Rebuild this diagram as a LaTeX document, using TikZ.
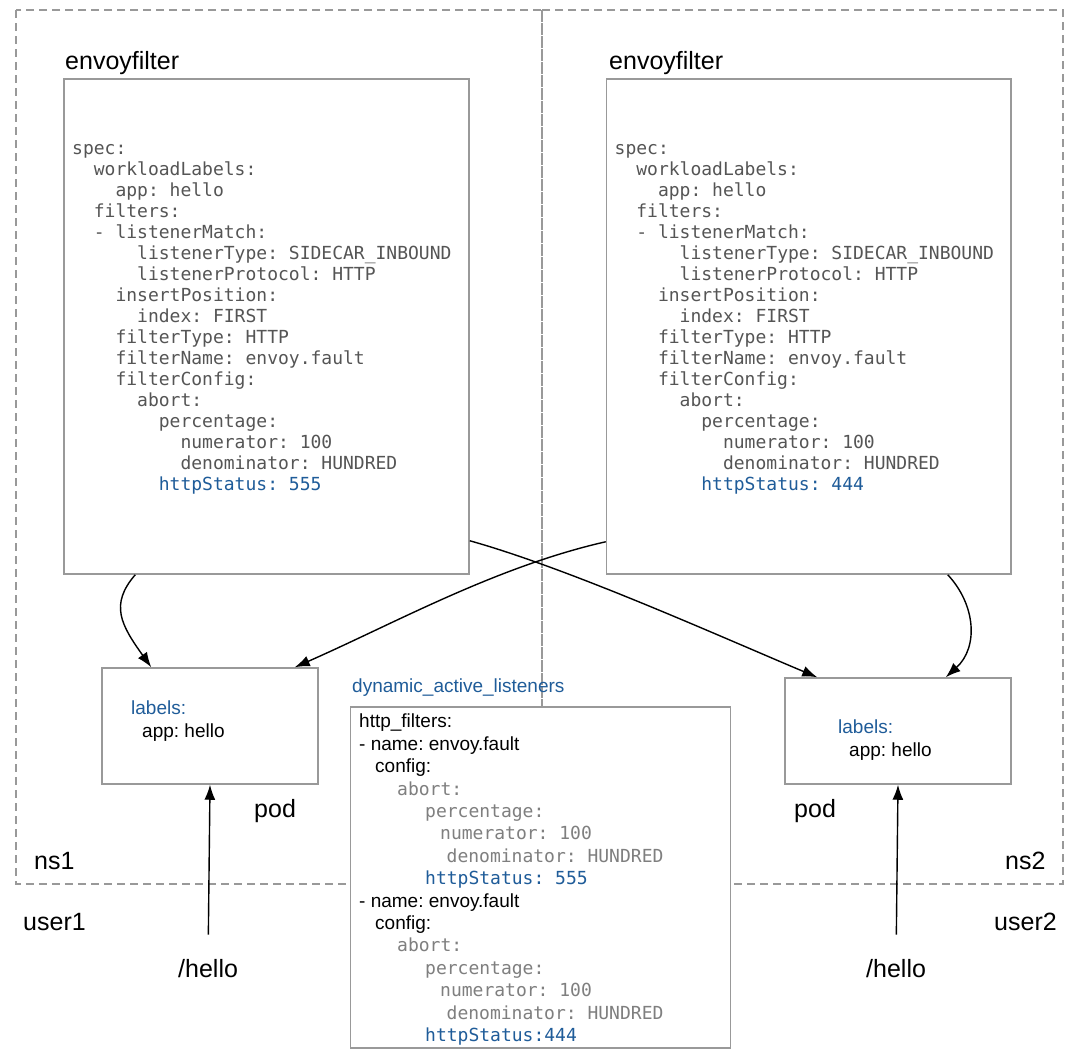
\documentclass[tikz,border=0pt]{standalone}
\usepackage{fontspec}
\setmainfont{Liberation Sans}
\newfontfamily\codefont{DejaVu Sans Mono}
\usetikzlibrary{arrows.meta}

\definecolor{codegray}{HTML}{555555}
\definecolor{lightcode}{HTML}{7F7F7F}
\definecolor{keyblue}{HTML}{1F5C99}
\definecolor{boxgray}{HTML}{999999}

\frenchspacing
\newcommand{\codeind}[1]{\hspace*{#1\fontcharwd\font`0}}
\newcommand{\mono}{\codefont\fontsize{18}{22.4}\selectfont}

\tikzset{
  boxnode/.style={draw=boxgray, line width=1.5pt, fill=white, inner sep=0pt},
  codetext/.style={inner sep=0pt, anchor=north west, align=left, text=codegray,
    font=\codefont\fontsize{18}{21}\selectfont},
  smalltext/.style={inner sep=0pt, anchor=north west, align=left,
    font=\fontsize{19}{23}\selectfont},
  biglabel/.style={inner sep=0pt, anchor=base west, font=\fontsize{25}{29}\selectfont},
  arr/.style={-{Latex[length=15pt,width=11pt]}, line width=1.4pt},
  nsframe/.style={draw=boxgray, line width=1.2pt, dash pattern=on 8pt off 5pt}
}

\begin{document}
\begin{tikzpicture}[x=1pt, y=-1pt]
  \useasboundingbox (0,0) rectangle (1080,1061);

  % namespaces
  \draw[nsframe] (16,10) rectangle (542,884);
  \draw[nsframe] (542,10) rectangle (1063,884);
  \node[biglabel] (ns1) at (34,869) {ns1};
  \node[biglabel] (ns2) at (1005,869) {ns2};

  % envoyfilters
  \node[biglabel] (ef1lbl) at (65,69) {envoyfilter};
  \node[boxnode, minimum width=405pt, minimum height=495pt] (ef1) at (266.5,326.5) {};
  \node[codetext] (ef1code) at (72,144) {%
    spec:\\
    \codeind{2}workloadLabels:\\
    \codeind{4}app: hello\\
    \codeind{2}filters:\\
    \codeind{2}- listenerMatch:\\
    \codeind{6}listenerType: SIDECAR\_INBOUND\\
    \codeind{6}listenerProtocol: HTTP\\
    \codeind{4}insertPosition:\\
    \codeind{6}index: FIRST\\
    \codeind{4}filterType: HTTP\\
    \codeind{4}filterName: envoy.fault\\
    \codeind{4}filterConfig:\\
    \codeind{6}abort:\\
    \codeind{8}percentage:\\
    \codeind{10}numerator: 100\\
    \codeind{10}denominator: HUNDRED\\
    \codeind{8}{\color{keyblue}httpStatus: 555}};

  \node[biglabel] (ef2lbl) at (609,69) {envoyfilter};
  \node[boxnode, minimum width=404.5pt, minimum height=495pt] (ef2) at (808.75,326.5) {};
  \node[codetext] (ef2code) at (614.5,144) {%
    spec:\\
    \codeind{2}workloadLabels:\\
    \codeind{4}app: hello\\
    \codeind{2}filters:\\
    \codeind{2}- listenerMatch:\\
    \codeind{6}listenerType: SIDECAR\_INBOUND\\
    \codeind{6}listenerProtocol: HTTP\\
    \codeind{4}insertPosition:\\
    \codeind{6}index: FIRST\\
    \codeind{4}filterType: HTTP\\
    \codeind{4}filterName: envoy.fault\\
    \codeind{4}filterConfig:\\
    \codeind{6}abort:\\
    \codeind{8}percentage:\\
    \codeind{10}numerator: 100\\
    \codeind{10}denominator: HUNDRED\\
    \codeind{8}{\color{keyblue}httpStatus: 444}};

  % pods
  \node[boxnode, minimum width=216pt, minimum height=116pt] (pod1) at (210,726) {};
  \node[smalltext] (pod1txt) at (131,701) {{\color{keyblue}labels:}\\\hspace*{11pt}app: hello};
  \node[biglabel] (pod1lbl) at (254,817) {pod};
  \node[boxnode, minimum width=226pt, minimum height=106pt] (pod2) at (898,731) {};
  \node[smalltext] (pod2txt) at (838,720) {{\color{keyblue}labels:}\\\hspace*{11pt}app: hello};
  \node[biglabel] (pod2lbl) at (794,817) {pod};

  % listeners
  \node[inner sep=0pt, anchor=base west, text=keyblue, font=\fontsize{19}{23}\selectfont]
    (dynlbl) at (352,692) {dynamic\_active\_listeners};
  \node[boxnode, minimum width=380pt, minimum height=341pt] (dyn) at (540.7,877.5) {};
  \node[inner sep=0pt, anchor=north west, align=left, font=\fontsize{19}{22.4}\selectfont]
    (dyntxt) at (359,714) {%
    http\_filters:\\
    - name: envoy.fault\\
    \hspace*{16pt}config:\\
    \hspace*{38pt}{\mono\color{lightcode}abort:}\\
    \hspace*{66pt}{\mono\color{lightcode}percentage:}\\
    \hspace*{81pt}{\mono\color{lightcode}numerator: 100}\\
    \hspace*{87.5pt}{\mono\color{lightcode}denominator: HUNDRED}\\
    \hspace*{66pt}{\mono\color{keyblue}httpStatus: 555}\\
    - name: envoy.fault\\
    \hspace*{16pt}config:\\
    \hspace*{38pt}{\mono\color{lightcode}abort:}\\
    \hspace*{66pt}{\mono\color{lightcode}percentage:}\\
    \hspace*{81pt}{\mono\color{lightcode}numerator: 100}\\
    \hspace*{87.5pt}{\mono\color{lightcode}denominator: HUNDRED}\\
    \hspace*{66pt}{\mono\color{keyblue}httpStatus:444}};

  % users
  \node[biglabel] (user1) at (23,930) {user1};
  \node[biglabel] (user2) at (994,930) {user2};
  \node[biglabel] (hello1) at (178,977) {/hello};
  \node[biglabel] (hello2) at (866,977) {/hello};

  % connectors
  \draw[arr] ([xshift=72pt]ef1.south west) .. controls +(-26,30) and +(-30,-42) .. ([xshift=50pt]pod1.north west);
  \draw[arr] ([xshift=-64pt]ef2.south east) .. controls +(28,30) and +(33,-30) .. ([xshift=-66pt]pod2.north east);
  \draw[arr] ([yshift=34pt]ef1.south east) .. controls +(100,28) and +(-100,-42) .. ([xshift=33pt]pod2.north west);
  \draw[arr] ([yshift=33pt]ef2.south west) .. controls +(-110,25) and +(100,-44) .. ([xshift=-24pt]pod1.north east);
  \draw[arr, shorten <=24pt] (hello1.north) -- (pod1.south);
  \draw[arr, shorten <=24pt] (hello2.north) -- (pod2.south);
\end{tikzpicture}
\end{document}
